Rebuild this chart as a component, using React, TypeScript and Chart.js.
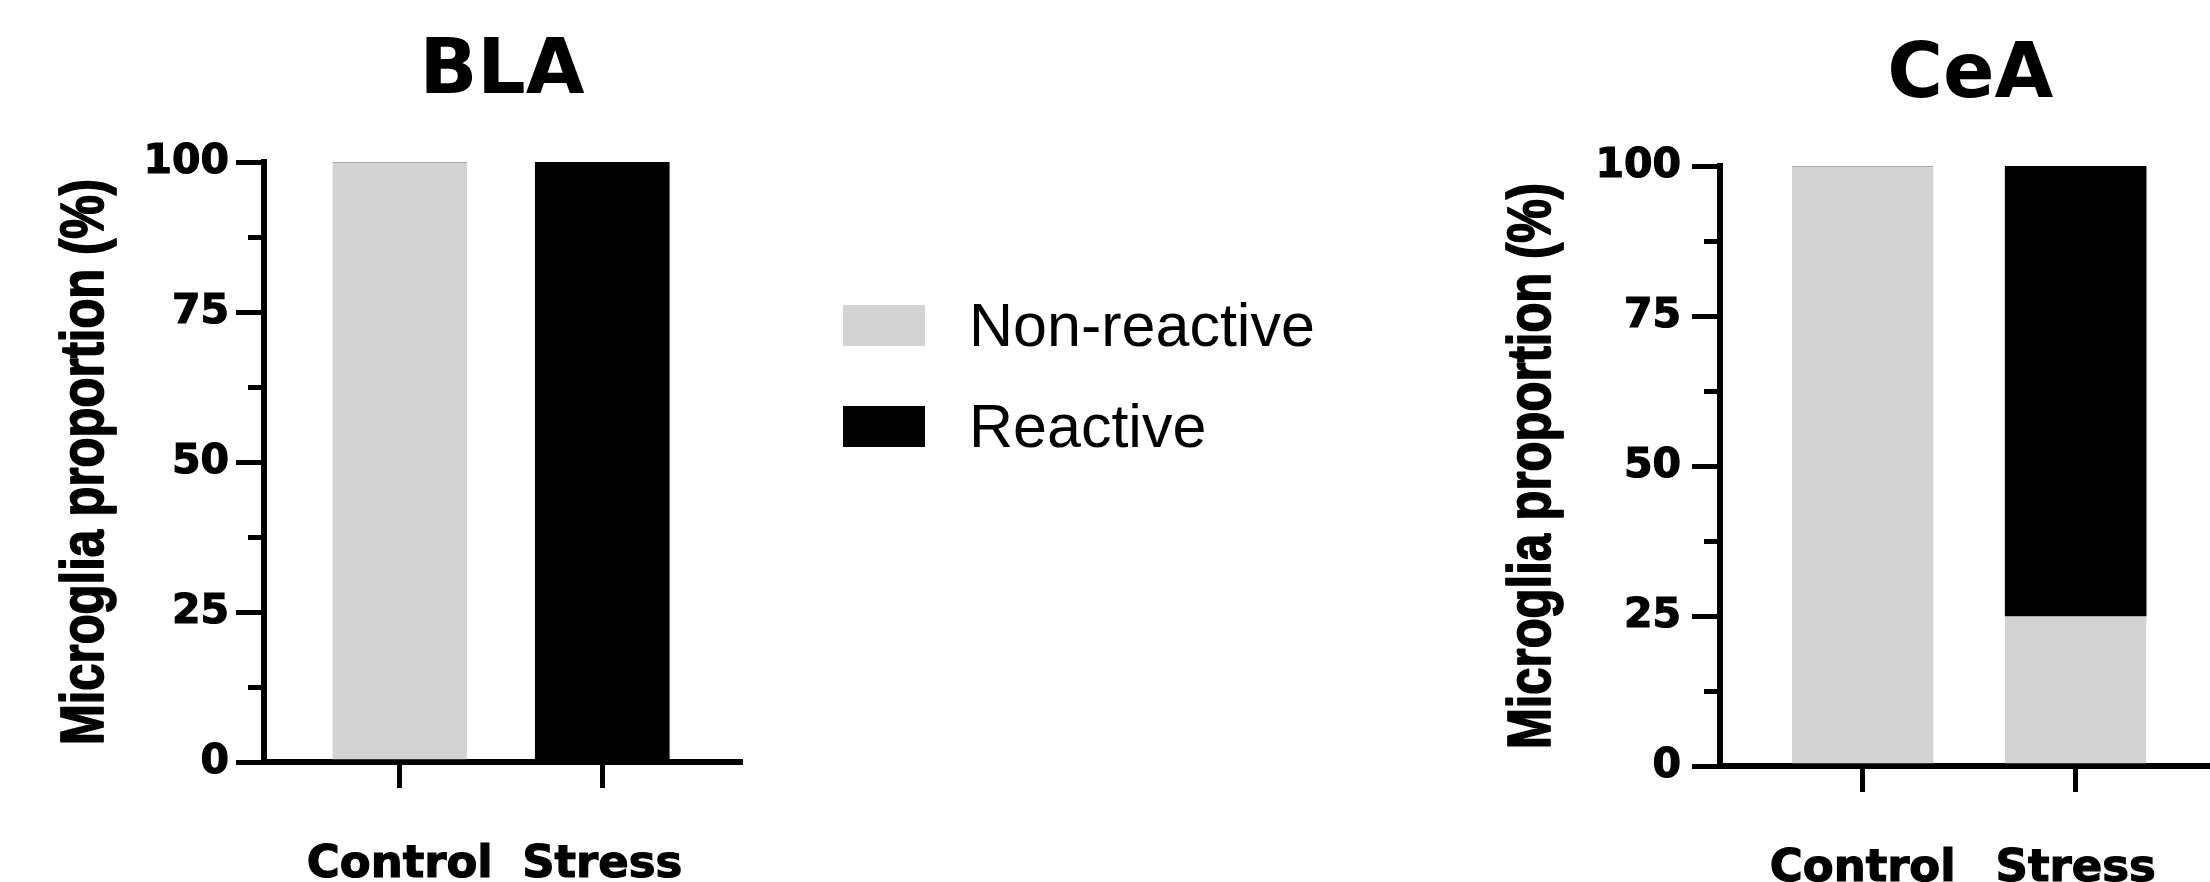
import React, { useEffect, useRef } from 'react';
import { Chart, registerables } from 'chart.js';

Chart.register(...registerables);

// ---------------- data ----------------
const categories = ['Control', 'Stress'];
const seriesNames = ['Non-reactive', 'Reactive'];
const seriesColors = ['#d3d3d3', '#000000'];
const blaNonReactive = [100, 0];
const blaReactive = [0, 100];
const ceaNonReactive = [100, 25];
const ceaReactive = [0, 75];
const yMin = 0;
const yMax = 100;
const yStep = 25;
const minorTickValues = [12.5, 37.5, 62.5, 87.5];
const yAxisTitle = 'Microglia proportion (%)';
const panelTitles = ['BLA', 'CeA'];

const BOLD_FAMILY = "'DejaVu Sans', sans-serif";

const axisExtras = {
  id: 'axisExtras',
  afterDraw(chart: any, _args: any, opts: any) {
    const { ctx, chartArea } = chart;
    const yScale = chart.scales.y;
    ctx.save();
    ctx.strokeStyle = '#000';
    ctx.lineWidth = 5;
    ctx.lineCap = 'butt';
    (opts.minorTicks || []).forEach((v: number) => {
      const py = Math.round(yScale.getPixelForValue(v)) + 0.5;
      ctx.beginPath();
      ctx.moveTo(chartArea.left - opts.minorLength, py);
      ctx.lineTo(chartArea.left, py);
      ctx.stroke();
    });
    ctx.restore();

    ctx.save();
    ctx.translate(chartArea.left - opts.titleOffset, (chartArea.top + chartArea.bottom) / 2);
    ctx.scale(opts.stretch, 1);
    ctx.rotate(-Math.PI / 2);
    ctx.font = 'bold 49px "Liberation Sans", Arial, sans-serif';
    ctx.fillStyle = '#000';
    ctx.strokeStyle = '#000';
    ctx.lineWidth = 1.4;
    ctx.lineJoin = 'round';
    ctx.textAlign = 'center';
    ctx.textBaseline = 'alphabetic';
    ctx.fillText(opts.title, 0, 0);
    ctx.strokeText(opts.title, 0, 0);
    ctx.restore();
  },
};

type PanelProps = {
  title: string;
  nonReactive: number[];
  reactive: number[];
  left: number;
  top: number;
  width: number;
  height: number;
  yWidth: number;
  padRight: number;
  labelPad: number;
  titleOffset: number;
};

function Panel(p: PanelProps) {
  const ref = useRef<HTMLCanvasElement>(null);
  useEffect(() => {
    const chart = new Chart(ref.current as HTMLCanvasElement, {
      type: 'bar',
      data: {
        datasets: [
          {
            label: seriesNames[0],
            data: categories.map((_, i) => ({ x: i + 1, y: p.nonReactive[i] })),
            backgroundColor: seriesColors[0],
            borderColor: '#a9a9a9',
            borderWidth: { top: 1, left: 0, right: 0, bottom: 0 },
            barPercentage: 0.665,
            categoryPercentage: 1,
          },
          {
            label: seriesNames[1],
            data: categories.map((_, i) => ({ x: i + 1, y: p.reactive[i] })),
            backgroundColor: seriesColors[1],
            borderWidth: 0,
            barPercentage: 0.665,
            categoryPercentage: 1,
          },
        ],
      } as any,
      options: {
        animation: false,
        responsive: false,
        maintainAspectRatio: false,
        events: [],
        layout: { padding: { left: 0, right: p.padRight, top: 0, bottom: 0 } },
        plugins: {
          legend: { display: false },
          tooltip: { enabled: false },
          title: {
            display: true,
            text: p.title,
            fullSize: false,
            color: '#000',
            font: { family: BOLD_FAMILY, size: 76, weight: 'bold' },
            padding: { top: 28, bottom: 42.8 },
          },
          axisExtras: {
            minorTicks: minorTickValues,
            minorLength: 16,
            title: yAxisTitle,
            titleOffset: p.titleOffset,
            stretch: 1.25,
          },
        } as any,
        scales: {
          x: {
            type: 'linear',
            min: 0.33,
            max: 2.68,
            offset: false,
            stacked: true,
            afterBuildTicks: (s: any) => {
              s.ticks = categories.map((_, i) => ({ value: i + 1 }));
            },
            afterFit: (s: any) => {
              s.height = 120;
            },
            ticks: {
              callback: (v: any) => categories[Number(v) - 1] ?? '',
              font: { family: BOLD_FAMILY, size: 45, weight: 'bold' },
              color: '#000',
              textStrokeColor: '#000',
              textStrokeWidth: 1.2,
              padding: 50,
              autoSkip: false,
              maxRotation: 0,
              minRotation: 0,
            },
            grid: {
              display: true,
              drawOnChartArea: false,
              drawTicks: true,
              tickLength: 26,
              tickWidth: 5,
              tickColor: '#000',
              lineWidth: 5,
              color: '#000',
              offset: false,
            },
            border: { display: true, width: 6, color: '#000' },
          },
          y: {
            type: 'linear',
            min: yMin,
            max: yMax,
            stacked: true,
            afterFit: (s: any) => {
              s.width = p.yWidth;
            },
            ticks: {
              stepSize: yStep,
              font: { family: BOLD_FAMILY, size: 41, weight: 'bold' },
              color: '#000',
              textStrokeColor: '#000',
              textStrokeWidth: 1.2,
              padding: p.labelPad,
            },
            grid: {
              display: true,
              drawOnChartArea: false,
              drawTicks: true,
              tickLength: 28,
              tickWidth: 5,
              tickColor: '#000',
              lineWidth: 5,
              color: '#000',
            },
            border: { display: true, width: 6, color: '#000' },
          },
        } as any,
      },
      plugins: [axisExtras as any],
    });
    return () => chart.destroy();
  }, []);
  return (
    <canvas
      ref={ref}
      width={p.width}
      height={p.height}
      style={{ position: 'absolute', left: p.left, top: p.top, width: p.width, height: p.height }}
    />
  );
}

export default function App() {
  return (
    <div
      style={{
        position: 'absolute',
        left: 0,
        top: 0,
        width: 2210,
        height: 882,
        overflow: 'hidden',
        background: '#ffffff',
      }}
    >
      <Panel
        title={panelTitles[0]}
        nonReactive={blaNonReactive}
        reactive={blaReactive}
        left={0}
        top={0}
        width={820}
        height={882}
        yWidth={264}
        padRight={80}
        labelPad={7}
        titleOffset={161}
      />
      <Panel
        title={panelTitles[1]}
        nonReactive={ceaNonReactive}
        reactive={ceaReactive}
        left={1450}
        top={4}
        width={800}
        height={882}
        yWidth={270}
        padRight={29.5}
        labelPad={11}
        titleOffset={170}
      />
      {seriesNames.map((name, i) => (
        <React.Fragment key={name}>
          <div
            style={{
              position: 'absolute',
              left: 843,
              top: 305 + i * 101,
              width: 82,
              height: 41,
              background: seriesColors[i],
            }}
          />
          <div
            style={{
              position: 'absolute',
              left: 969,
              top: 294 + i * 101,
              font: '61px "Liberation Sans", Arial, sans-serif',
              lineHeight: '62px',
              color: '#000',
              whiteSpace: 'nowrap',
            }}
          >
            {name}
          </div>
        </React.Fragment>
      ))}
    </div>
  );
}
